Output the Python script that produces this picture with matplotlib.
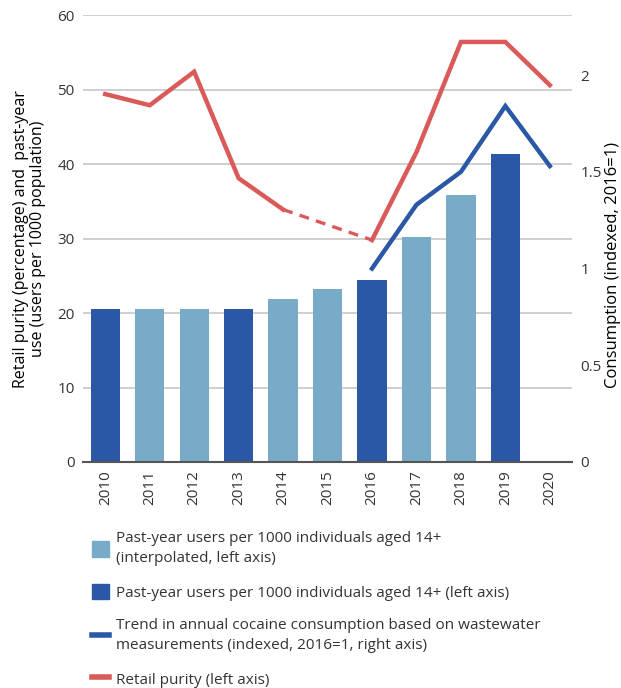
import numpy as np
import matplotlib
matplotlib.use('Agg')
import matplotlib.pyplot as plt
from matplotlib.patches import Patch
from matplotlib.lines import Line2D

years = [2010, 2011, 2012, 2013, 2014, 2015, 2016, 2017, 2018, 2019, 2020]
users = [20.6, 20.6, 20.6, 20.6, 21.9, 23.2, 24.5, 30.2, 35.8, 41.4, np.nan]
users_measured = [True, False, False, True, False, False, True, False, False, True, False]
purity_years = [2010, 2011, 2012, 2013, 2014, 2016, 2017, 2018, 2019, 2020]
purity = [49.4, 47.9, 52.4, 38.1, 33.9, 29.8, 41.6, 56.4, 56.4, 50.6]
ww_years = [2016, 2017, 2018, 2019, 2020]
wastewater = [1.0, 1.33, 1.50, 1.84, 1.53]

DARK = '#2A58A6'
LIGHT = '#78ABC7'
RED = '#DA5A5A'
GRID = '#CCCCCC'
TXT = '#333333'

plt.rcParams['font.family'] = ['Open Sans', 'DejaVu Sans']

fig = plt.figure(figsize=(6.21, 6.88), dpi=100)
ax = fig.add_axes([0.1337, 0.3285, 0.7875, 0.6495])
ax2 = ax.twinx()

idx = {y: i for i, y in enumerate(years)}
x = np.arange(len(years))
cols = [DARK if m else LIGHT for m in users_measured]
ax.bar(x, users, width=0.66, color=cols, zorder=2)

# purity: solid up to 2014, dashed 2014-2016 (no 2015 value), solid from 2016
px = [idx[y] for y in purity_years]
k = purity_years.index(2014)
ax.plot(px[:k + 1], purity[:k + 1], color=RED, lw=3.2, zorder=3, solid_joinstyle='miter')
ax.plot(px[k:k + 2], purity[k:k + 2], color=RED, lw=2.4, ls=(0, (3, 2.2)), zorder=3)
ax.plot(px[k + 1:], purity[k + 1:], color=RED, lw=3.2, zorder=3, solid_joinstyle='miter')

ax2.plot([idx[y] for y in ww_years], wastewater, color=DARK, lw=3.2, zorder=3, solid_joinstyle='miter')

ax.set_xlim(-0.5, len(years) - 0.5)
ax.set_ylim(0, 60)
ax2.set_ylim(0, 2.31)
ax.set_yticks(range(0, 61, 10))
ax2.set_yticks([0, 0.5, 1, 1.5, 2])
ax2.set_yticklabels(['0', '0.5', '1', '1.5', '2'])
ax.set_xticks(x)
ax.set_xticklabels([str(y) for y in years], rotation=90)

ax.grid(axis='y', color=GRID, lw=1.3, zorder=0)
ax.set_axisbelow(True)
for a in (ax, ax2):
    for s in a.spines.values():
        s.set_visible(False)
ax.spines['bottom'].set_visible(True)
ax.spines['bottom'].set_color('#555555')
ax.spines['bottom'].set_linewidth(1.5)
ax.tick_params(axis='both', length=0, labelsize=11, colors=TXT, pad=6)
ax2.tick_params(axis='y', length=0, labelsize=11, colors=TXT, pad=6)

ax.set_ylabel('Retail purity (percentage) and  past-year\nuse (users per 1000 population)',
              fontsize=11.5, color='black', labelpad=8, linespacing=1.1)
ax2.set_ylabel('Consumption (indexed, 2016=1)', fontsize=12, color='black')
ax2.yaxis.set_label_coords(1.067, 0.44)

handles = [Patch(color=LIGHT), Patch(color=DARK),
           Line2D([], [], color=DARK, lw=4), Line2D([], [], color=RED, lw=4)]
labels = ['Past-year users per 1000 individuals aged 14+\n(interpolated, left axis)',
          'Past-year users per 1000 individuals aged 14+ (left axis)',
          'Trend in annual cocaine consumption based on wastewater\nmeasurements (indexed, 2016=1, right axis)',
          'Retail purity (left axis)']
leg = fig.legend(handles, labels, loc='upper left', bbox_to_anchor=(0.138, 0.237), frameon=False,
                 fontsize=11, handlelength=1.1, handleheight=1.2, handletextpad=0.5,
                 labelspacing=1.15, labelcolor=TXT, borderaxespad=0)
for t in leg.get_texts():
    t.set_linespacing(1.45)

fig.savefig('out.png', dpi=100)
